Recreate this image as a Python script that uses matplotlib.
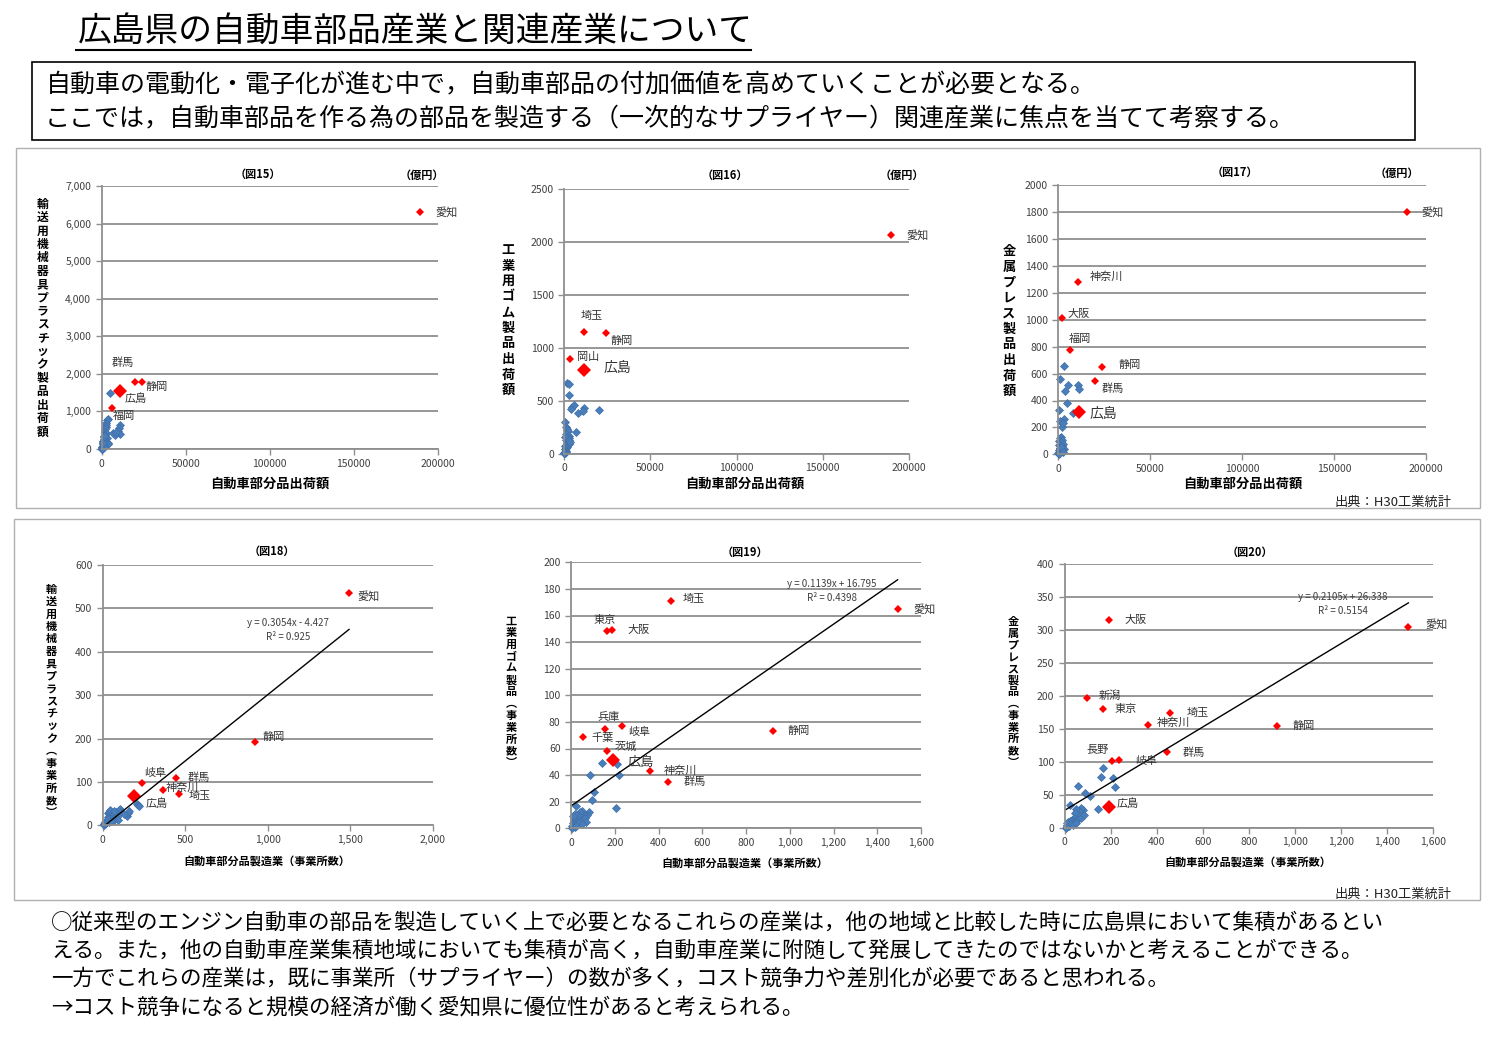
import matplotlib
matplotlib.use("Agg")
import matplotlib.pyplot as plt
from matplotlib.patches import Rectangle
from matplotlib.lines import Line2D
from matplotlib.ticker import MultipleLocator, FuncFormatter

plt.rcParams['font.family'] = ['Noto Sans CJK JP', 'DejaVu Sans']

W, H = 1500, 1039

# ---- data (図15-17: 出荷額 億円, 図18-20: 事業所数) ----
f15_blue_x = [4900, 3900, 3300, 2800, 2400, 2600, 2200, 2000, 2500, 1800, 1500, 3000, 1200, 1000,
              2000, 800, 4000, 3500, 600, 500, 1500, 300, 200, 400, 100, 700, 1100, 150, 50, 900,
              1300, 10800, 10500, 9500, 10800, 7800, 6500, 8500]
f15_blue_y = [1480, 800, 760, 700, 640, 580, 520, 460, 420, 380, 320, 300, 260, 220,
              200, 180, 150, 120, 120, 90, 80, 60, 40, 20, 10, 30, 50, 5, 0, 150,
              350, 640, 560, 470, 400, 370, 420, 450]
f15_red_names = ["愛知", "群馬", "静岡", "広島", "福岡"]
f15_red_x = [189500, 19800, 23800, 10900, 6300]
f15_red_y = [6300, 1790, 1790, 1544, 1090]

f16_blue_x = [1400, 2700, 2700, 4600, 5800, 3900, 8100, 11600, 11000, 20100, 6600, 400,
              1000, 1500, 2000, 800, 2500, 3000, 1200, 600, 2000, 1500, 2500, 1000, 500, 1800,
              700, 300, 1200, 200, 900, 100, 400, 50, 2800, 3200]
f16_blue_y = [665, 656, 555, 444, 460, 420, 388, 430, 400, 416, 202, 303,
              250, 230, 210, 190, 170, 150, 130, 160, 120, 100, 90, 80, 70, 60,
              50, 40, 30, 20, 15, 10, 5, 2, 130, 110]
f16_red_names = ["愛知", "埼玉", "静岡", "岡山", "広島"]
f16_red_x = [189500, 11300, 24200, 3100, 11300]
f16_red_y = [2068, 1154, 1141, 892, 791]

f17_blue_x = [3300, 900, 5300, 10900, 11400, 3800, 4700, 500, 8000, 3100, 900, 2200, 2800,
              1500, 800, 2200, 600, 1200, 2500, 300, 1800, 900, 3000, 500, 1500, 200, 1000,
              100, 400, 2000, 700, 1300, 2600]
f17_blue_y = [656, 562, 515, 513, 483, 473, 384, 329, 309, 265, 245, 200, 230,
              125, 120, 110, 100, 90, 80, 70, 60, 50, 40, 30, 25, 20, 15,
              10, 5, 35, 45, 55, 20]
f17_red_names = ["愛知", "神奈川", "大阪", "福岡", "静岡", "群馬", "広島"]
f17_red_x = [189500, 10900, 2200, 6400, 23900, 20000, 11100]
f17_red_y = [1799, 1279, 1011, 773, 647, 545, 315]

f18_blue_x = [30, 35, 40, 45, 50, 55, 60, 65, 70, 75, 80, 85, 90, 100, 105, 110, 60, 40, 25,
              20, 15, 10, 5, 8, 12, 30, 50, 150, 155, 160, 130, 205, 215, 222, 45, 70]
f18_blue_y = [28, 20, 30, 25, 18, 28, 22, 15, 25, 20, 30, 18, 12, 35, 38, 30, 10, 8, 12,
              5, 8, 3, 2, 0, 6, 15, 10, 22, 28, 32, 26, 50, 46, 44, 35, 32]
f18_red_names = ["愛知", "静岡", "岐阜", "群馬", "神奈川", "埼玉", "広島"]
f18_red_x = [1493, 923, 236, 444, 364, 461, 192]
f18_red_y = [535, 192, 97, 108, 81, 73, 67]
f18_trend = (0.3054, -4.427, "y = 0.3054x - 4.427", "R² = 0.925")

f19_blue_x = [143, 210, 87, 219, 107, 95, 23, 206, 80, 75, 60, 50, 45, 40, 35, 30, 25, 20,
              15, 10, 8, 5, 3, 12, 18, 28, 38, 55, 65, 70, 48, 22]
f19_blue_y = [49, 48, 40, 40, 27, 21, 17, 15, 12, 10, 11, 13, 9, 12, 8, 10, 7, 11,
              6, 9, 4, 2, 0, 3, 1, 4, 5, 6, 8, 5, 3, 2]
f19_red_names = ["埼玉", "愛知", "東京", "大阪", "兵庫", "岐阜", "千葉", "茨城", "広島",
                 "神奈川", "群馬", "静岡"]
f19_red_x = [457, 1493, 163, 189, 154, 233, 56, 163, 192, 361, 442, 922]
f19_red_y = [171, 165, 148, 149, 75, 77, 69, 58, 51, 43, 35, 73]
f19_trend = (0.1139, 16.795, "y = 0.1139x + 16.795", "R² = 0.4398")

f20_blue_x = [165, 156, 210, 59, 220, 88, 110, 146, 23, 80, 70, 60, 50, 45, 65, 40, 30, 55,
              35, 25, 20, 15, 10, 8, 5, 12, 18, 28, 38, 48, 72, 85]
f20_blue_y = [90, 77, 75, 63, 61, 53, 48, 29, 34, 27, 30, 25, 28, 22, 18, 15, 12, 12,
              8, 10, 6, 9, 4, 2, 0, 7, 3, 5, 4, 7, 14, 20]
f20_red_names = ["大阪", "愛知", "新潟", "東京", "埼玉", "神奈川", "静岡", "群馬", "長野",
                 "岐阜", "広島"]
f20_red_x = [191, 1493, 97, 165, 459, 363, 922, 444, 207, 236, 192]
f20_red_y = [315, 304, 197, 180, 174, 155, 154, 114, 101, 102, 32]
f20_trend = (0.2105, 26.338, "y = 0.2105x + 26.338", "R² = 0.5154")

title = "広島県の自動車部品産業と関連産業について"
box_lines = ["自動車の電動化・電子化が進む中で，自動車部品の付加価値を高めていくことが必要となる。",
             "ここでは，自動車部品を作る為の部品を製造する（一次的なサプライヤー）関連産業に焦点を当てて考察する。"]
notes = ["○従来型のエンジン自動車の部品を製造していく上で必要となるこれらの産業は，他の地域と比較した時に広島県において集積があるとい",
         "える。また，他の自動車産業集積地域においても集積が高く，自動車産業に附随して発展してきたのではないかと考えることができる。",
         "一方でこれらの産業は，既に事業所（サプライヤー）の数が多く，コスト競争力や差別化が必要であると思われる。",
         "→コスト競争になると規模の経済が働く愛知県に優位性があると考えられる。"]
source = "出典：H30工業統計"


def fx(x):
    return x / W


def fy(y):
    return 1 - y / H


fig = plt.figure(figsize=(15, 10.39), dpi=100)

# title + underline
fig.text(fx(78), fy(32), title, fontsize=24.3, ha='left', va='center')
fig.add_artist(Line2D([fx(76), fx(751)], [fy(50), fy(50)], color='black', lw=1.5))

# box with intro
fig.add_artist(Rectangle((fx(32), fy(140)), fx(1415) - fx(32), fy(62) - fy(140),
                         fill=False, ec='black', lw=1.2))
fig.text(fx(46), fy(85), box_lines[0], fontsize=18, ha='left', va='center')
fig.text(fx(45), fy(118), box_lines[1], fontsize=18, ha='left', va='center')

# panel frames
fig.add_artist(Rectangle((fx(16), fy(508)), fx(1480) - fx(16), fy(148) - fy(508),
                         fill=False, ec='#b0b0b0', lw=1))
fig.add_artist(Rectangle((fx(14), fy(900)), fx(1480) - fx(14), fy(519) - fy(900),
                         fill=False, ec='#b0b0b0', lw=1))
fig.text(fx(1452), fy(502), source, fontsize=9.5, ha='right', va='center', color='#222222')
fig.text(fx(1452), fy(894), source, fontsize=9.5, ha='right', va='center', color='#222222')

for i, line in enumerate(notes):
    fig.text(fx(51), fy(923 + 28 * i), line, fontsize=15.5, ha='left', va='center')


def vlabel(x, y0, y1, text, size):
    n = len(text)
    step = (y1 - y0) / (n - 1)
    for k, ch in enumerate(text):
        fig.text(fx(x), fy(y0 + k * step), ch, fontsize=size, fontweight='bold',
                 ha='center', va='center')


def comma(v, pos):
    return f"{int(v):,}"


def plain(v, pos):
    return f"{int(v)}"


def panel(rect, bx, by, names, rx, ry, offsets, xmax, xstep, ymax, ystep, xc, yc,
          big_size=7, hiro_fs=8, trend=None, eq_px=None):
    x0, y0, x1, y1 = rect
    ax = fig.add_axes([fx(x0), fy(y1), fx(x1) - fx(x0), fy(y0) - fy(y1)])
    ax.set_xlim(0, xmax)
    ax.set_ylim(0, ymax)
    ax.xaxis.set_major_locator(MultipleLocator(xstep))
    ax.yaxis.set_major_locator(MultipleLocator(ystep))
    ax.xaxis.set_major_formatter(FuncFormatter(comma if xc else plain))
    ax.yaxis.set_major_formatter(FuncFormatter(comma if yc else plain))
    ax.grid(axis='y', color='#8f8f8f', lw=1.3)
    ax.set_axisbelow(True)
    for s in ['top', 'right']:
        ax.spines[s].set_visible(False)
    for s in ['left', 'bottom']:
        ax.spines[s].set_color('#8f8f8f')
        ax.spines[s].set_linewidth(1.3)
    ax.tick_params(axis='both', direction='out', length=4, color='#8f8f8f', width=1,
                   labelsize=7.5, labelcolor='#404040')
    ax.tick_params(axis='x', pad=3)
    ax.plot(bx, by, 'D', color='#4a7ebb', ms=4.3, mec='#3f6fa8', mew=0.5, ls='none', clip_on=False)
    for name, x, y in zip(names, rx, ry):
        if name == "広島":
            ax.plot([x], [y], 'D', color='#ff0000', ms=big_size, mew=0, clip_on=False)
            fs = hiro_fs
        else:
            ax.plot([x], [y], 'D', color='#ff0000', ms=4.3, mew=0, clip_on=False)
            fs = 8
        dx, dy = offsets[name]
        ax.annotate(name, (x, y), xytext=(dx, dy), textcoords='offset pixels',
                    ha='center', va='center', fontsize=fs, color='#333333')
    if trend is not None:
        a, b, eq, r2 = trend
        allx = list(bx) + list(rx)
        xs = [min(allx), max(allx)]
        ax.plot(xs, [a * v + b for v in xs], color='black', lw=1)
        fig.text(fx(eq_px[0]), fy(eq_px[1]), eq, fontsize=7, ha='center', va='center',
                 color='#404040')
        fig.text(fx(eq_px[0]), fy(eq_px[1] + 14), r2, fontsize=7, ha='center', va='center',
                 color='#404040')
    return ax


# 図15
panel((101.7, 186, 437.7, 449), f15_blue_x, f15_blue_y, f15_red_names, f15_red_x, f15_red_y,
      {"愛知": (26, 0), "群馬": (-12, 19), "静岡": (15, -5), "広島": (16, -8), "福岡": (12, -8)},
      200000, 50000, 7000, 1000, False, True)
fig.text(fx(258), fy(174), "（図15）", fontsize=8, fontweight='bold', ha='center', va='center')
fig.text(fx(422), fy(175), "（億円）", fontsize=8, fontweight='bold', ha='center', va='center')
fig.text(fx(270), fy(484), "自動車部分品出荷額", fontsize=9.5, fontweight='bold', ha='center', va='center')
vlabel(42.5, 204, 432, "輸送用機械器具プラスチック製品出荷額", 8.5)

# 図16
panel((564.3, 189.3, 908.7, 453.7), f16_blue_x, f16_blue_y, f16_red_names, f16_red_x, f16_red_y,
      {"愛知": (27, 0), "埼玉": (8, 16), "静岡": (16, -8), "岡山": (18, 2), "広島": (34, 2)},
      200000, 50000, 2500, 500, False, False, big_size=7.5, hiro_fs=10)
fig.text(fx(725), fy(175), "（図16）", fontsize=8, fontweight='bold', ha='center', va='center')
fig.text(fx(902), fy(175), "（億円）", fontsize=8, fontweight='bold', ha='center', va='center')
fig.text(fx(745), fy(484), "自動車部分品出荷額", fontsize=9.5, fontweight='bold', ha='center', va='center')
vlabel(508, 250, 390, "工業用ゴム製品出荷額", 9.5)

# 図17
panel((1058.3, 185.3, 1426, 454.3), f17_blue_x, f17_blue_y, f17_red_names, f17_red_x, f17_red_y,
      {"愛知": (26, 0), "神奈川": (28, 6), "大阪": (16, 4), "福岡": (10, 11), "静岡": (27, 2),
       "群馬": (18, -8), "広島": (25, -2)},
      200000, 50000, 2000, 200, False, False, big_size=7.5, hiro_fs=10)
fig.text(fx(1235), fy(172), "（図17）", fontsize=8, fontweight='bold', ha='center', va='center')
fig.text(fx(1397), fy(173), "（億円）", fontsize=8, fontweight='bold', ha='center', va='center')
fig.text(fx(1243), fy(484), "自動車部分品出荷額", fontsize=9.5, fontweight='bold', ha='center', va='center')
vlabel(1009, 251, 391, "金属プレス製品出荷額", 9.5)

# 図18
panel((102.7, 565, 432.7, 825.3), f18_blue_x, f18_blue_y, f18_red_names, f18_red_x, f18_red_y,
      {"愛知": (19, -3), "静岡": (19, 5), "岐阜": (14, 10), "群馬": (23, 1), "神奈川": (20, 3),
       "埼玉": (21, -2), "広島": (22, -7)},
      2000, 500, 600, 100, True, False, trend=f18_trend, eq_px=(288, 623))
fig.text(fx(272), fy(551), "（図18）", fontsize=8, fontweight='bold', ha='center', va='center')
fig.text(fx(267), fy(861), "自動車部分品製造業（事業所数）", fontsize=8, fontweight='bold',
         ha='center', va='center')
vlabel(51.5, 589, 813, "輸送用機械器具プラスチック︵事業所数︶", 8)

# 図19
panel((571, 562.3, 921, 828.3), f19_blue_x, f19_blue_y, f19_red_names, f19_red_x, f19_red_y,
      {"埼玉": (23, 2), "愛知": (27, 0), "東京": (-2, 11), "大阪": (26, 0), "兵庫": (4, 12),
       "岐阜": (17, -6), "千葉": (19, -1), "茨城": (19, 4), "広島": (28, -2), "神奈川": (31, 0),
       "群馬": (27, 0), "静岡": (26, 0)},
      1600, 200, 200, 20, True, False, hiro_fs=9.5, trend=f19_trend, eq_px=(832, 584))
fig.text(fx(745), fy(552), "（図19）", fontsize=8, fontweight='bold', ha='center', va='center')
fig.text(fx(745), fy(863), "自動車部分品製造業（事業所数）", fontsize=8, fontweight='bold',
         ha='center', va='center')
vlabel(511, 621, 763, "工業用ゴム製品︵事業所数︶", 8)

# 図20
panel((1064.7, 563.7, 1433, 827.7), f20_blue_x, f20_blue_y, f20_red_names, f20_red_x, f20_red_y,
      {"大阪": (27, 0), "愛知": (28, 3), "新潟": (23, 2), "東京": (23, 0), "埼玉": (27, 0),
       "神奈川": (25, 3), "静岡": (27, 0), "群馬": (27, 0), "長野": (-15, 11), "岐阜": (27, -1),
       "広島": (19, 3)},
      1600, 200, 400, 50, True, False, trend=f20_trend, eq_px=(1343, 597))
fig.text(fx(1250), fy(552), "（図20）", fontsize=8, fontweight='bold', ha='center', va='center')
fig.text(fx(1248), fy(862), "自動車部分品製造業（事業所数）", fontsize=8, fontweight='bold',
         ha='center', va='center')
vlabel(1013, 622, 762, "金属プレス製品︵事業所数︶", 8)

fig.savefig("out.png", dpi=100)
